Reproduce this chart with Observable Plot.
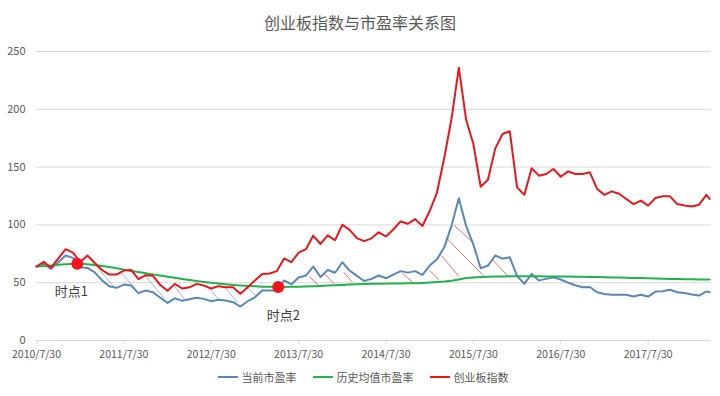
<!DOCTYPE html>
<html><head><meta charset="utf-8">
<script src="https://cdn.jsdelivr.net/npm/d3@7"></script>
<script src="https://cdn.jsdelivr.net/npm/@observablehq/plot@0.6"></script>
<style>
body{margin:0;background:#fff;font-family:"Noto Sans CJK SC","Noto Sans",sans-serif;}
#title{height:40px;box-sizing:border-box;padding-top:12px;text-align:center;font-size:16px;line-height:20px;color:#595959;}
#chart svg{display:block}
#legend{display:flex;justify-content:center;gap:16px;margin-top:5px;font-size:11px;line-height:14px;color:#595959;padding-left:6px}
.item{display:flex;align-items:center;gap:4px}
.sw{width:20px;height:2px}
</style></head><body>
<div id="title">创业板指数与市盈率关系图</div>
<div id="chart"></div>
<div id="legend"></div>
<script>
// month index since 2010/7/30 (last point is a partial month)
const months = d3.range(0, 93).concat([92.45]);
const xTickLabels = ["2010/7/30","2011/7/30","2012/7/30","2013/7/30","2014/7/30","2015/7/30","2016/7/30","2017/7/30"];
const xTickMonths = [0,12,24,36,48,60,72,84];
const yTicks = [0,50,100,150,200,250];
const seriesNames = ["当前市盈率","历史均值市盈率","创业板指数"];
const seriesColors = ["#5b87b7","#22b24c","#e5181e"];

// 当前市盈率
const pe = [64,66,62,67.7,73.5,71.5,63.4,62.8,59,52,
  47,45.5,48.4,47.5,41,43.2,41.7,37,32.5,36.5,
  34.3,35.7,36.9,36,34,35.2,34.6,33.1,29.4,34,
  37.4,43.2,43.2,43.2,51.9,48.7,54.5,56.2,64,55,
  61,58.6,67.7,60.5,55.9,51.5,53.3,56.2,53.8,57,
  60,58.7,60,56.8,64.8,70.3,80.6,99.4,123,99,
  83,62.5,64.8,73.5,70.8,72,55.8,49,57.6,52,
  53.3,54.7,52.8,50,47.8,46,46.3,41.7,40.3,39.6,
  39.6,39.6,38,39.5,38,42.3,42.6,43.9,41.7,41,
  39.8,38.9,42.5,41.7];
// 历史均值市盈率
const peAvg = [64,64.5,64.8,65.5,66,66.3,66.3,66,65.3,64.5,
  63.5,62.5,61.3,60.2,59.2,58.2,57.2,56.2,55.2,54.2,
  53.2,52.3,51.5,50.7,50,49.3,48.7,48.1,47.6,47.2,
  46.9,46.6,46.4,46.3,46.3,46.4,46.5,46.7,46.9,47.2,
  47.5,47.8,48.1,48.4,48.6,48.8,49,49.1,49.2,49.3,
  49.4,49.5,49.6,49.8,50.1,50.5,51,51.7,52.8,54,
  54.6,54.9,55.1,55.3,55.4,55.5,55.5,55.5,55.5,55.5,
  55.4,55.4,55.3,55.3,55.2,55.1,55,54.9,54.8,54.6,
  54.5,54.3,54.1,54,53.8,53.6,53.5,53.3,53.2,53,
  52.9,52.8,52.7,52.7];
// 创业板指数
const gem = [64,68,63,71,79,76,68,73.5,67,61,
  57,57,60.5,61,53,56.5,56,48,43,49,
  45,46,49,47.5,45,47,46,46,40.5,46,
  52,57.6,58,60,71,67.7,76,79,90.7,83.5,
  91,86.7,100,95.7,88.6,86,88.4,93.6,90,96,
  103,101,105,99,112,128,158,192,236,191,
  170,133,139,166,178.6,181,132.5,126,149,142.6,
  144,148.4,141.7,146.3,144,144,145.5,131,126,129,
  127,122.4,118,121,116.7,123.3,124.7,124.7,118,116.7,
  116,117.5,126,122.4];

// marked time points
const pointNames = ["时点1","时点2"];
const pointMonth = [5.6, 33.2];
const pointValue = [66.3, 46.3];
const labelMonth = [4.8, 33.9];
const labelValue = [42.4, 21.6];

// hatch annotations (month, value)
const redHatchX1 = [37.5,39.5,42.2,50.3,54,55.6,56.2,57.4,62.6];
const redHatchY1 = [55.3,58,59,58,60.5,73.5,89.3,99.4,70];
const redHatchX2 = [38.8,40.9,43.4,51.7,55.3,58,61.3,59.9,64.7];
const redHatchY2 = [47.5,49,50.4,49.9,52.5,55.5,56.5,85,56];
const blueHatchX1 = [7.0,11.4,14.8,18.8,23.3,25.7,28.9];
const blueHatchY1 = [73,60.5,57,48,48,47,46];
const blueHatchX2 = [10.7,13.9,17.6,20.4,25.1,27.6,30.3];
const blueHatchY2 = [46,42,36,35,35,33,38];

const idx = months.map((_, i) => i);
const lineOf = (vals, color) => Plot.line(idx, {x: i => months[i], y: i => vals[i], stroke: color, strokeWidth: 2, strokeLinejoin: "round"});
const hatch = (x1, y1, x2, y2, color) => Plot.link(x1.map((_, i) => i), {x1: i => x1[i], y1: i => y1[i], x2: i => x2[i], y2: i => y2[i], stroke: color, strokeWidth: 1});

const chart = Plot.plot({
  width: 720, height: 325,
  marginLeft: 36, marginRight: 9, marginTop: 11, marginBottom: 25,
  style: {fontFamily: '"Noto Sans CJK SC","Noto Sans",sans-serif', fontSize: "11px", color: "#595959", background: "#fff"},
  x: {domain: [0, 92.7]},
  y: {domain: [0, 250]},
  marks: [
    Plot.ruleY(yTicks, {stroke: "#d9d9d9", strokeWidth: 1}),
    Plot.axisY({ticks: yTicks, tickSize: 0, tickPadding: 11, label: null, fill: "#595959"}),
    Plot.axisX({ticks: xTickMonths, tickFormat: d => xTickLabels[xTickMonths.indexOf(d)], tickSize: 4, tickPadding: 6, stroke: "#d9d9d9", fill: "#595959", label: null, fontSize: 10.5}),
    hatch(blueHatchX1, blueHatchY1, blueHatchX2, blueHatchY2, "#9fbcd9"),
    hatch(redHatchX1, redHatchY1, redHatchX2, redHatchY2, "#df7474"),
    lineOf(pe, seriesColors[0]),
    lineOf(peAvg, seriesColors[1]),
    lineOf(gem, seriesColors[2]),
    Plot.dot(pointNames, {x: (d, i) => pointMonth[i], y: (d, i) => pointValue[i], r: 6, fill: "#f2141b", stroke: "none"}),
    Plot.text(pointNames, {x: (d, i) => labelMonth[i], y: (d, i) => labelValue[i], text: d => d, fontSize: 13, fill: "#404040"})
  ]
});
document.getElementById("chart").appendChild(chart);

const legend = document.getElementById("legend");
seriesNames.forEach((n, i) => {
  const it = document.createElement("div"); it.className = "item";
  const sw = document.createElement("div"); sw.className = "sw"; sw.style.background = seriesColors[i];
  const tx = document.createElement("span"); tx.textContent = n;
  it.appendChild(sw); it.appendChild(tx); legend.appendChild(it);
});
</script>
</body></html>
